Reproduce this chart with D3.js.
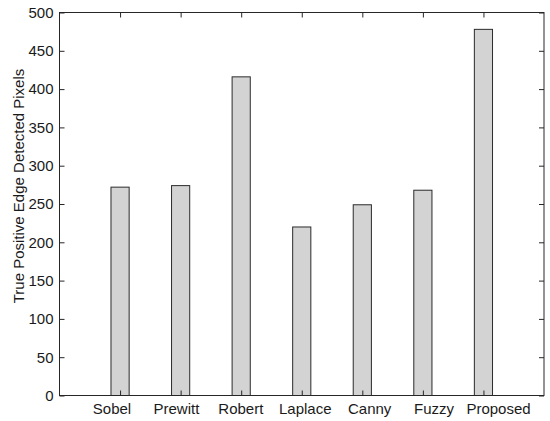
<!DOCTYPE html>
<html lang="en">
<head>
<meta charset="UTF-8"/>
<title>True Positive Edge Detected Pixels</title>
<script src="https://d3js.org/d3.v7.min.js"></script>
<style>
    body { margin: 0; background: #fff; }
    text { font-family: "Liberation Sans", Arial, sans-serif; fill: #1a1a1a; }
</style>
</head>
<body>
<script>
    // data
    var methods = ["Sobel", "Prewitt", "Robert", "Laplace", "Canny", "Fuzzy", "Proposed"];
    var pixels = [272, 274, 416, 220, 249, 268, 478];
    var yTicks = [0, 50, 100, 150, 200, 250, 300, 350, 400, 450, 500];

    var w = 550, h = 421;
    // plot box edges (note: "top" is taken by window.top, so use pad* names)
    var padL = 59.5, padR = 544, padT = 12.5, padB = 395.5;

    var svg = d3.select("body").append("svg")
        .attr("width", w)
        .attr("height", h);

    // x positions 1..7 on a 0..8 axis, like the original
    var xScale = d3.scaleLinear()
        .domain([0, methods.length + 1])
        .range([padL, padR]);

    // the category names in the original sit a bit wider apart than the bars
    var labelScale = d3.scalePoint()
        .domain(methods)
        .range([111.5, 498]);

    var yScale = d3.scaleLinear()
        .domain([0, 500])
        .range([padB, padT]);

    var barW = (xScale(1) - xScale(0)) * 0.3;

    svg.selectAll("rect.bar")
        .data(pixels)
        .enter()
        .append("rect")
        .attr("class", "bar")
        .attr("x", function(d, i) { return xScale(i + 1) - barW / 2; })
        .attr("y", function(d) { return yScale(d); })
        .attr("width", barW)
        .attr("height", function(d) { return yScale(0) - yScale(d); })
        .attr("fill", "#d3d3d3")
        .attr("stroke", "#2b2b2b")
        .attr("stroke-width", 1);

    // y axis, ticks inside
    var yAxis = d3.axisLeft(yScale).tickValues(yTicks).tickSizeInner(-5).tickSizeOuter(0).tickPadding(6);
    svg.append("g")
        .attr("transform", "translate(" + padL + ",0)")
        .call(yAxis);

    // right side ticks
    svg.append("g")
        .attr("transform", "translate(" + padR + ",0)")
        .call(d3.axisRight(yScale).tickValues(yTicks).tickSizeInner(-5).tickSizeOuter(0).tickFormat(""));

    // bottom and top tick marks at the bars
    svg.append("g")
        .attr("transform", "translate(0," + padB + ")")
        .call(d3.axisBottom(xScale).tickValues(d3.range(1, methods.length + 1)).tickSizeInner(-5).tickSizeOuter(0).tickFormat(""));

    svg.append("g")
        .attr("transform", "translate(0," + padT + ")")
        .call(d3.axisTop(xScale).tickValues(d3.range(1, methods.length + 1)).tickSizeInner(-5).tickSizeOuter(0).tickFormat(""));

    // category names
    var labelAxis = d3.axisBottom(labelScale).tickSize(0).tickPadding(8);
    svg.append("g")
        .attr("class", "labels")
        .attr("transform", "translate(0," + padB + ")")
        .call(labelAxis);
    svg.select(".labels").selectAll("line").remove();

    svg.selectAll(".tick line").attr("stroke", "#262626");
    svg.selectAll(".domain").remove();
    svg.selectAll(".tick text")
        .style("font-size", "15px")
        .style("font-family", "'Liberation Sans', Arial, sans-serif")
        .attr("fill", "#1a1a1a");

    // axes box
    svg.append("rect")
        .attr("x", padL)
        .attr("y", padT)
        .attr("width", padR - padL)
        .attr("height", padB - padT)
        .attr("fill", "none")
        .attr("stroke", "#262626")
        .attr("stroke-width", 1);

    // y label
    svg.append("text")
        .attr("text-anchor", "middle")
        .attr("transform", "rotate(-90)")
        .attr("x", -186)
        .attr("y", 24)
        .style("font-size", "15px")
        .text("True Positive Edge Detected Pixels");
</script>
</body>
</html>
